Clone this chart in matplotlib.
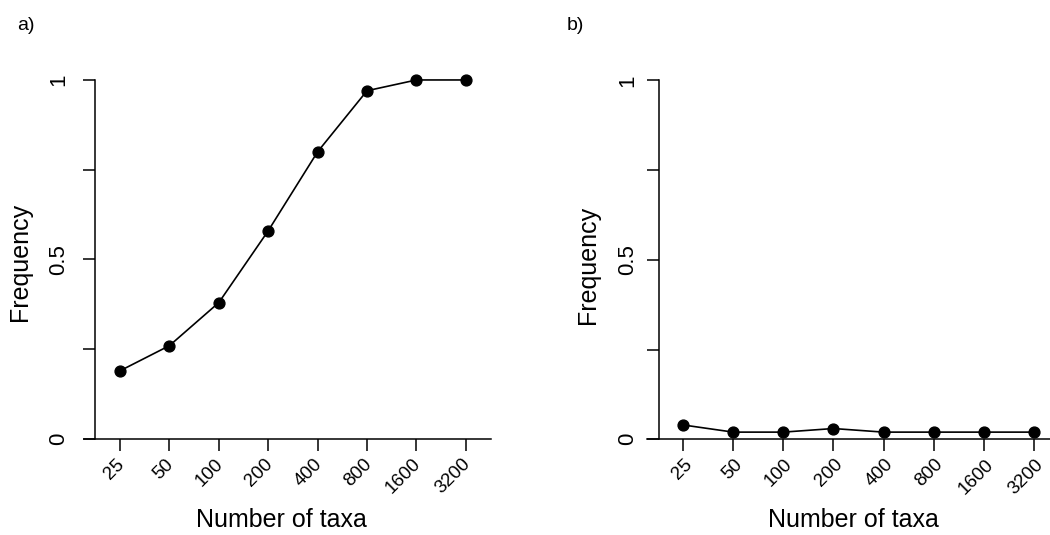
import matplotlib
matplotlib.use("Agg")
import matplotlib.pyplot as plt
import matplotlib.transforms as mtransforms

plt.rcParams["font.family"] = ["Liberation Sans", "DejaVu Sans"]

taxa = ["25", "50", "100", "200", "400", "800", "1600", "3200"]
freq_a = [0.19, 0.26, 0.38, 0.58, 0.80, 0.97, 1.0, 1.0]
freq_b = [0.04, 0.02, 0.02, 0.03, 0.02, 0.02, 0.02, 0.02]
yticks = [0, 0.25, 0.5, 0.75, 1]
ylabels = ["0", "", "0.5", "", "1"]

W, H = 1050, 535
fig = plt.figure(figsize=(W / 100, H / 100), dpi=100)


def px_axes(left, right, bottom, top):
    # pixel box (from top-left) -> figure fraction
    return [left / W, 1 - bottom / H, (right - left) / W, (bottom - top) / H]


def panel(rect, data, xmin, yspine, ypad, xoff, xlab_x, ylab_x, ylab_y, tag, tag_x):
    ax = fig.add_axes(rect)
    xs = list(range(1, len(data) + 1))
    ax.plot(xs, data, "-o", color="black", lw=1.2, ms=7.8, clip_on=False)
    ax.set_xlim(xmin, 8.5)
    ax.set_ylim(0, 1.04)

    for s in ["top", "right"]:
        ax.spines[s].set_visible(False)
    ax.spines["left"].set_position(("data", yspine))
    ax.spines["left"].set_bounds(0, 1)
    ax.spines["left"].set_linewidth(1.1)
    ax.spines["bottom"].set_linewidth(1.1)

    ax.set_yticks(yticks)
    ax.set_yticklabels(ylabels)
    ax.set_xticks(xs)
    ax.set_xticklabels(taxa)
    ax.tick_params(axis="both", direction="out", length=8.6, width=1.1)
    ax.tick_params(axis="y", pad=ypad, labelsize=16)
    ax.tick_params(axis="x", pad=10, labelsize=13.5)

    plt.setp(ax.get_yticklabels(), rotation=90, ha="center", va="baseline",
             rotation_mode="anchor")
    offset = mtransforms.ScaledTranslation(xoff / 100, 0, fig.dpi_scale_trans)
    for lab in ax.get_xticklabels():
        lab.set_rotation(45)
        lab.set_ha("right")
        lab.set_va("baseline")
        lab.set_rotation_mode("anchor")
        lab.set_transform(lab.get_transform() + offset)

    ax.set_xlabel("Number of taxa", fontsize=18, va="baseline")
    ax.xaxis.set_label_coords(xlab_x, -0.2357)
    ax.set_ylabel("Frequency", fontsize=18)
    ax.yaxis.set_label_coords(ylab_x, ylab_y)

    fig.text(tag_x / W, 1 - 30 / H, tag, fontsize=14, va="baseline")
    return ax


panel(px_axes(83.5, 490.5, 439, 65.6), freq_a, 0.26, 0.5, 13.7, 5,
      0.4865, -0.1273, 0.4754, "a)", 17)
panel(px_axes(646.7, 1059, 439.3, 65.9), freq_b, 0.276, 0.515, 9.9, 10,
      0.5016, -0.1133, 0.466, "b)", 567)

plt.savefig("out.png", dpi=100)
